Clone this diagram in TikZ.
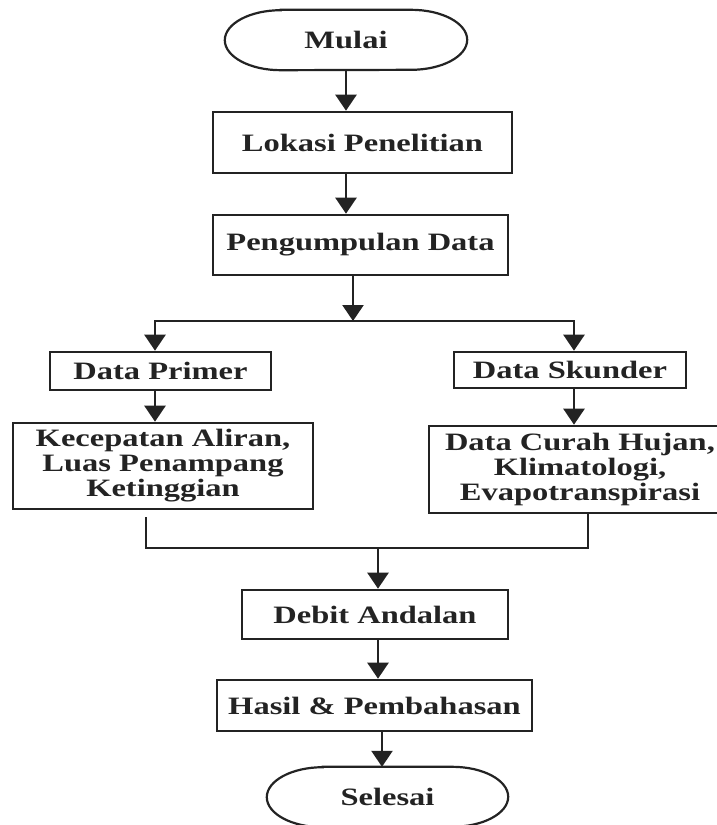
\documentclass[tikz,border=0pt]{standalone}
\usepackage{fontspec}
\setmainfont{Liberation Serif}[FakeStretch=1.3]
\usetikzlibrary{arrows.meta}
\definecolor{ink}{RGB}{35,35,35}
\begin{document}
\begin{tikzpicture}[x=1pt,y=-1pt,
  every node/.style={font=\fontsize{25}{25}\selectfont\bfseries, text=ink},
  boxnode/.style={draw=ink, line width=2.6pt, inner sep=0pt, align=center},
  term/.style={inner sep=0pt},
  termline/.style={draw=ink, line width=2.2pt},
  arr/.style={draw=ink, line width=2.4pt, -{Triangle[width=21pt,length=16pt]}},
  lin/.style={draw=ink, line width=2.4pt}]
\useasboundingbox (0,0) rectangle (716,825);

% nodes
\node[term, minimum width=242pt, minimum height=60pt] (mul) at (346,40) {Mulai};
\node[boxnode, minimum width=299pt, minimum height=61pt] (lok) at (362.5,142.5) {Lokasi Penelitian};
\node[boxnode, minimum width=295pt, minimum height=60pt] (pd) at (360.5,245) {Pengumpulan Data};
\node[boxnode, minimum width=221pt, minimum height=38pt] (dp) at (160.5,371) {Data Primer};
\node[boxnode, minimum width=232pt, minimum height=36pt] (ds) at (570,370) {Data Skunder};
\node[boxnode, minimum width=300pt, minimum height=86pt] (kec) at (163,466)
  {Kecepatan Aliran,\\Luas Penampang\\Ketinggian};
\node[boxnode, minimum width=302pt, minimum height=87pt] (cur) at (580,469.5)
  {Data Curah Hujan,\\Klimatologi,\\Evapotranspirasi};
\node[boxnode, minimum width=266pt, minimum height=49pt] (deb) at (375,614.5) {Debit Andalan};
\node[boxnode, minimum width=315pt, minimum height=51pt] (has) at (374.5,705.5) {Hasil \& Pembahasan};
\node[term, minimum width=241pt, minimum height=60pt] (sel) at (387.5,797) {Selesai};

% terminator outlines
\draw[termline] ([xshift=56pt]mul.north west) -- ([xshift=-56pt]mul.north east)
  arc[start angle=90,end angle=-90,x radius=56pt,y radius=30pt]
  -- ([xshift=56pt]mul.south west)
  arc[start angle=270,end angle=90,x radius=56pt,y radius=30pt] -- cycle;
\draw[termline] ([xshift=56pt]sel.north west) -- ([xshift=-56pt]sel.north east)
  arc[start angle=90,end angle=-90,x radius=56pt,y radius=30pt]
  -- ([xshift=56pt]sel.south west)
  arc[start angle=270,end angle=90,x radius=56pt,y radius=30pt] -- cycle;

% helper coordinates
\coordinate (sp) at (353,321);
\coordinate (spl) at (155,321);
\coordinate (spr) at (574,321);
\coordinate (jl) at (146,548);
\coordinate (jr) at (588,548);
\coordinate (jm) at (378,548);
\coordinate (hs) at (382,0);

% connectors
\draw[arr] (mul.south) -- (mul.south |- lok.north);
\draw[arr] (mul.south |- lok.south) -- (mul.south |- pd.north);
\draw[arr] (sp |- pd.south) -- (sp);
\draw[arr] (sp) -| (spl |- dp.north);
\draw[arr] (sp) -| (spr |- ds.north);
\draw[arr] (spl |- dp.south) -- (spl |- kec.north);
\draw[arr] (spr |- ds.south) -- (spr |- cur.north);
\draw[lin] ([yshift=-7pt]jl |- kec.south) -- (jl) -- (jr) -- (jr |- cur.south);
\draw[arr] (jm) -- (jm |- deb.north);
\draw[arr] (jm |- deb.south) -- (jm |- has.north);
\draw[arr] (hs |- has.south) -- (hs |- sel.north);
\end{tikzpicture}
\end{document}
